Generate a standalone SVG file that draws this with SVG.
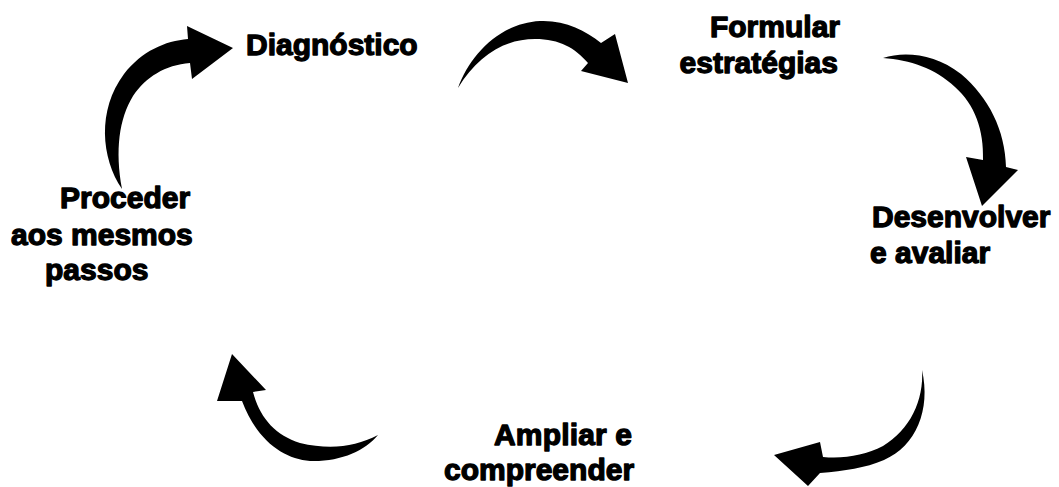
<svg xmlns="http://www.w3.org/2000/svg" width="1059" height="487" viewBox="0 0 1059 487">
  <style>
    .lbl { font-family: "Liberation Sans", Arial, sans-serif; font-weight: bold; font-size: 30px; fill: #000; stroke: #000; stroke-width: 1.3px; stroke-linejoin: round; }
    .arrow { fill: #000; stroke: none; }
  </style>
  <rect width="1059" height="487" fill="#fff"/>

  <!-- curved arrows forming the cycle -->
  <g id="connectors">
    <path class="arrow" d="M122,189 C101,158 97,110 124,74 C142,51 165,41 188,39 L187,26 L233,48 L192,79 L190,63 C165,65 146,77 133,96 C119,119 115,150 122,189 Z"/>
    <path class="arrow" d="M458,88 C470,55 500,23 540,21 C565,20 585,30 601,43 L615,34 L628,83 L581,71 L588,63 C575,48 560,39 535,39 C505,39 478,55 458,88 Z"/>
    <path class="arrow" d="M883,58 C905,51 935,54 961,74 C989,98 1005,130 1006,167 L1018,170 L982,206 L966,157 L983,160 C984,130 975,105 955,87 C935,68 910,60 883,58 Z"/>
    <path class="arrow" d="M922,370 C931,410 916,446 884,460 C865,468 845,471 820,473 L808,486 L774,455 L820,442 L823,457 C845,459 865,455 883,446 C910,430 924,400 922,370 Z"/>
    <path class="arrow" d="M378,435 C365,451 340,462 310,461 C284,459 257,441 242,401 L217,401 L232,354 L266,390 L253,392 C260,418 275,435 300,443 C330,450 355,447 378,435 Z"/>
  </g>

  <g id="diagnostico">
    <text class="lbl" x="246" y="55">Diagnóstico</text>
  </g>
  <g id="formular">
    <text class="lbl" x="840" y="37" text-anchor="end">Formular</text>
    <text class="lbl" x="838" y="73" text-anchor="end">estratégias</text>
  </g>
  <g id="desenvolver">
    <text class="lbl" x="872" y="227">Desenvolver</text>
    <text class="lbl" x="870" y="263">e avaliar</text>
  </g>
  <g id="ampliar">
    <text class="lbl" x="494" y="445" textLength="138" lengthAdjust="spacing">Ampliar e</text>
    <text class="lbl" x="444" y="480">compreender</text>
  </g>
  <g id="proceder">
    <text class="lbl" x="60" y="208">Proceder</text>
    <text class="lbl" x="11" y="245">aos mesmos</text>
    <text class="lbl" x="45" y="280">passos</text>
  </g>
</svg>
